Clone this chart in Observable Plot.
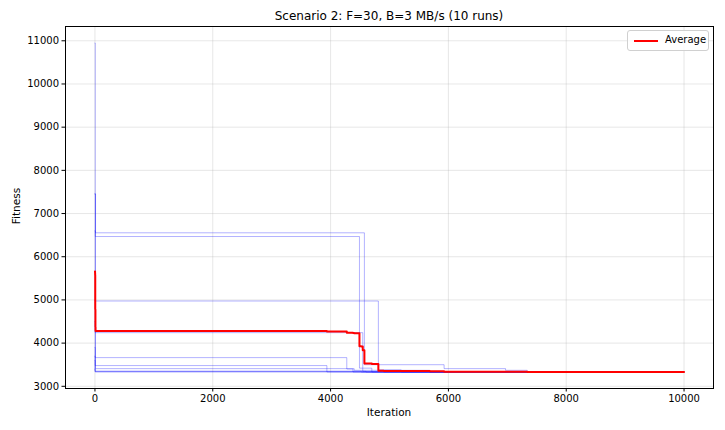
<!DOCTYPE html>
<html><head><meta charset="utf-8">
<script src="https://cdn.jsdelivr.net/npm/d3@7"></script>
<script src="https://cdn.jsdelivr.net/npm/@observablehq/plot@0.6"></script>
<style>
body{margin:0;background:#fff;font-family:"DejaVu Sans",sans-serif;}
#wrap{position:relative;width:725px;height:430px;}
#title{position:absolute;left:65px;width:648px;top:9px;text-align:center;font-size:12px;color:#000;}
#xlab{position:absolute;left:65px;width:648px;top:406px;text-align:center;font-size:10.5px;}
#ylab{position:absolute;left:16px;top:206px;font-size:10.5px;transform:translate(-50%,-50%) rotate(-90deg);white-space:nowrap;}
#legend{position:absolute;left:627px;top:30px;width:82px;height:21px;border:1px solid #d0d0d0;border-radius:3px;background:rgba(255,255,255,0.8);font-size:10px;box-sizing:border-box;}
#legend .sw{position:absolute;left:6px;top:9px;width:24px;height:2px;background:#ff0000;}
#legend .tx{position:absolute;left:37px;top:3px;}
</style></head><body>
<div id="wrap"></div>
<script>
// Each run: step change points [iteration, fitness]
const run0 = [[0,10950],[5,3347],[4520,3331]];
const run1 = [[0,7460],[8,3409],[4400,3370],[5685,3331]];
const run2 = [[0,7450],[10,6554],[4574,3500],[5927,3409],[6970,3370],[7338,3331]];
const run3 = [[0,6600],[6,6468],[4490,3420],[4700,3331]];
const run4 = [[0,5000],[4,4975],[4811,3380],[5200,3331]];
const run5 = [[0,4500],[3,4242],[4546,3345],[4900,3331]];
const run6 = [[0,3900],[5,3664],[4275,3400],[4380,3331]];
const run7 = [[0,3600],[4,3480],[3937,3331]];
const run8 = [[0,3700],[2,3347],[4600,3331]];
const run9 = [[0,3400],[3,3331]];
const runs = [run0,run1,run2,run3,run4,run5,run6,run7,run8,run9];
const maxIter = 10000;
const xTicks = [0,2000,4000,6000,8000,10000];
const yTicks = [3000,4000,5000,6000,7000,8000,9000,10000,11000];

const runRows = [];
runs.forEach((r, i) => {
  r.forEach(([it, v]) => runRows.push({run: i, iter: it, fit: v}));
  runRows.push({run: i, iter: maxIter, fit: r[r.length-1][1]});
});
const valueAt = (r, it) => { let v = r[0][1]; for (const [a,b] of r) if (a <= it) v = b; return v; };
const iters = Array.from(new Set(runRows.map(d => d.iter))).sort((a,b)=>a-b);
const avgRows = iters.map(it => ({iter: it, fit: d3.mean(runs, r => valueAt(r, it))}));

const plot = Plot.plot({
  width: 725, height: 430,
  marginLeft: 65, marginRight: 12, marginTop: 26, marginBottom: 42,
  style: {fontFamily: "DejaVu Sans, sans-serif", fontSize: "10px", background: "#fff", color: "#000"},
  x: {domain: [-500, 10500], ticks: xTicks, tickFormat: d => String(d), label: null},
  y: {domain: [2949, 11331], ticks: yTicks, tickFormat: d => String(d), label: null},
  marks: [
    Plot.gridX(xTicks, {stroke: "#b0b0b0", strokeOpacity: 0.3}),
    Plot.gridY(yTicks, {stroke: "#b0b0b0", strokeOpacity: 0.3}),
    Plot.line(runRows, {x: "iter", y: "fit", z: "run", curve: "step-after", stroke: "#0000ff", strokeOpacity: 0.3, strokeWidth: 1}),
    Plot.line(avgRows, {x: "iter", y: "fit", curve: "step-after", stroke: "#ff0000", strokeWidth: 2}),
    Plot.axisX({ticks: xTicks, tickSize: 3.5, tickPadding: 3, tickFormat: d => String(d), label: null}),
    Plot.axisY({ticks: yTicks, tickSize: 3.5, tickPadding: 3, tickFormat: d => String(d), label: null}),
    Plot.frame({stroke: "#000", strokeWidth: 1})
  ]
});
const wrap = document.getElementById("wrap");
wrap.appendChild(plot);
wrap.insertAdjacentHTML("beforeend",
  '<div id="title">Scenario 2: F=30, B=3 MB/s (10 runs)</div>' +
  '<div id="xlab">Iteration</div>' +
  '<div id="ylab">Fitness</div>' +
  '<div id="legend"><div class="sw"></div><div class="tx">Average</div></div>');
</script>
</body></html>
